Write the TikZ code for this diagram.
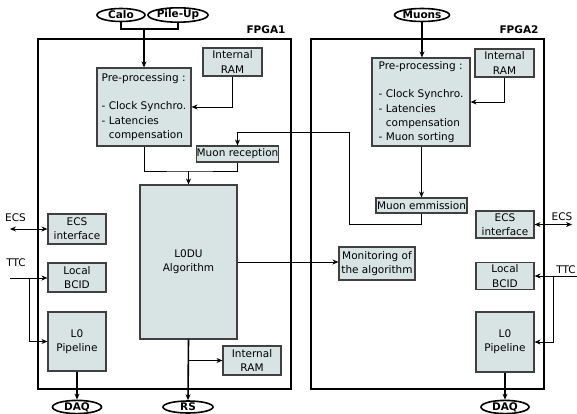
\documentclass[tikz,border=0pt]{standalone}
\usepackage{fontspec}
\setmainfont{DejaVu Sans}
\usepackage{tikz}
\usetikzlibrary{arrows.meta,positioning,shapes.geometric}
\definecolor{blkfill}{RGB}{216,228,228}
\definecolor{blkline}{RGB}{64,64,64}

\begin{document}
\begin{tikzpicture}[x=1pt,y=-1pt,
  font=\fontsize{10.5}{14.3}\selectfont,
  blk/.style={draw=blkline,fill=blkfill,line width=1.1pt,inner sep=0pt,align=center},
  src/.style={ellipse,draw,line width=1.6pt,inner sep=0pt,
              font=\fontsize{10.5}{12}\selectfont\bfseries},
  frame/.style={draw,line width=1.6pt},
  wire/.style={line width=0.8pt},
  bus/.style={line width=1.6pt},
  tip/.style={-{Stealth[length=6pt,width=5pt]}}]
  % page size of the reference
  \useasboundingbox (0,0) rectangle (577,414);
  % the two FPGA frames
  \draw[frame] (38,39) rectangle (291,389);
  \draw[frame] (311,39) rectangle (544,389);
  \node[anchor=east,font=\fontsize{10.5}{12}\selectfont\bfseries] (fpga1) at (289,30) {FPGA1};
  \node[anchor=east,font=\fontsize{10.5}{12}\selectfont\bfseries] (fpga2) at (542,30) {FPGA2};

  % inputs and outputs
  \node[src,minimum width=48pt,minimum height=13pt] (calo) at (121,15) {Calo};
  \node[src,minimum width=49pt,minimum height=13pt] (pileup) at (178,15) {Pile-Up};
  \node[src,minimum width=49pt,minimum height=13pt] (muons) at (422,15) {Muons};
  \node[src,minimum width=49pt,minimum height=12pt] (daq1) at (77,407) {DAQ};
  \node[src,minimum width=50pt,minimum height=12pt] (rs) at (188,407) {RS};
  \node[src,minimum width=48pt,minimum height=12pt] (daq2) at (505,407) {DAQ};

  % FPGA1 blocks
  \node[blk,align=left,minimum width=94pt,minimum height=78pt] (pre1) at (144,107)
    {Pre-processing :\\[14.3pt]- Clock Synchro.\\- Latencies\\\phantom{- }compensation};
  \node[blk,minimum width=59pt,minimum height=28pt] (ram1) at (232.5,62) {Internal\\RAM};
  \node[blk,minimum width=81pt,minimum height=16pt] (murec) at (237.5,154) {Muon reception};
  \node[blk,minimum width=97pt,minimum height=154pt] (l0du) at (188.5,262) {L0DU\\Algorithm};
  \node[blk,minimum width=58pt,minimum height=29pt] (ram1b) at (252,360.5) {Internal\\RAM};
  \node[blk,minimum width=58pt,minimum height=30pt] (ecs1) at (77,229) {ECS\\interface};
  \node[blk,minimum width=58pt,minimum height=29pt] (bcid1) at (77,277.5) {Local\\BCID};
  \node[blk,minimum width=58pt,minimum height=59pt] (pipe1) at (77,341.5) {L0\\Pipeline};

  % FPGA2 blocks
  \node[blk,align=left,minimum width=98pt,minimum height=88pt] (pre2) at (421,102)
    {Pre-processing :\\[14.3pt]- Clock Synchro.\\- Latencies\\\phantom{- }compensation\\- Muon sorting};
  \node[blk,minimum width=59pt,minimum height=28pt] (ram2) at (504.5,63) {Internal\\RAM};
  \node[blk,minimum width=91pt,minimum height=15pt] (muem) at (421.5,205.5) {Muon emmission};
  \node[blk,minimum width=76pt,minimum height=33pt] (mon) at (377,263.5) {Monitoring of\\the algorithm};
  \node[blk,minimum width=58pt,minimum height=27pt] (ecs2) at (505,224.5) {ECS\\interface};
  \node[blk,minimum width=58pt,minimum height=27pt] (bcid2) at (505,276) {Local\\BCID};
  \node[blk,minimum width=58pt,minimum height=60pt] (pipe2) at (505,342) {L0\\Pipeline};

  % outside signals
  \node (ecsl) at (15.5,218) {ECS};
  \node (ttcl) at (16,263) {TTC};
  \node (ecsr) at (562,217) {ECS};
  \node[anchor=east,inner sep=1pt] (ttcr) at (577,270) {TTC};
  \coordinate (ecsa) at (10,229);
  \coordinate (ttca) at (10,278);
  \coordinate (ttcb) at (29,278);
  \coordinate (ecsc) at (572,224.5);
  \coordinate (ttcc) at (577,276);
  \coordinate (ttcd) at (553,276);

  % joins
  \coordinate (cj) at (144,29);
  \coordinate (mj) at (188.5,171);
  \coordinate (m1) at (349,224);
  \coordinate (m2) at (349,132);

  % FPGA1 links
  \draw[bus] (calo.south) |- (cj) -| (pileup.south);
  \draw[bus,tip] (cj) -- (pre1.north);
  \draw[wire,tip] (ram1.south) |- (pre1.east);
  \draw[wire] (pre1.south) |- (mj) -| (murec.south);
  \draw[wire,tip] (mj) -- (l0du.north);
  \draw[wire,tip] (muem.south) |- (m1) -- (m2) -| (murec.north);
  \draw[wire,tip] (l0du.east) -- (l0du.east -| mon.west);
  \draw[bus,tip] (l0du.south) -- (rs.north);
  \draw[wire,tip] (l0du.south |- ram1b.west) -- (ram1b.west);
  \draw[wire,{Stealth[length=6pt,width=5pt]}-{Stealth[length=6pt,width=5pt]}] (ecsa) -- (ecs1.west);
  \draw[wire,tip] (ttca) -- (ttca -| bcid1.west);
  \draw[wire,tip] (ttcb) |- (pipe1.west);
  \draw[bus,tip] (pipe1.south) -- (daq1.north);

  % FPGA2 links
  \draw[bus,tip] (muons.south) -- (muons.south |- pre2.north);
  \draw[wire,tip] (ram2.south) |- (pre2.east);
  \draw[wire,tip] (pre2.south -| muem.north) -- (muem.north);
  \draw[wire,{Stealth[length=6pt,width=5pt]}-{Stealth[length=6pt,width=5pt]}] (ecs2.east) -- (ecsc);
  \draw[wire,tip] (ttcc) -- (bcid2.east);
  \draw[wire,tip] (ttcd) |- (pipe2.east);
  \draw[bus,tip] (pipe2.south) -- (daq2.north);
\end{tikzpicture}
\end{document}
